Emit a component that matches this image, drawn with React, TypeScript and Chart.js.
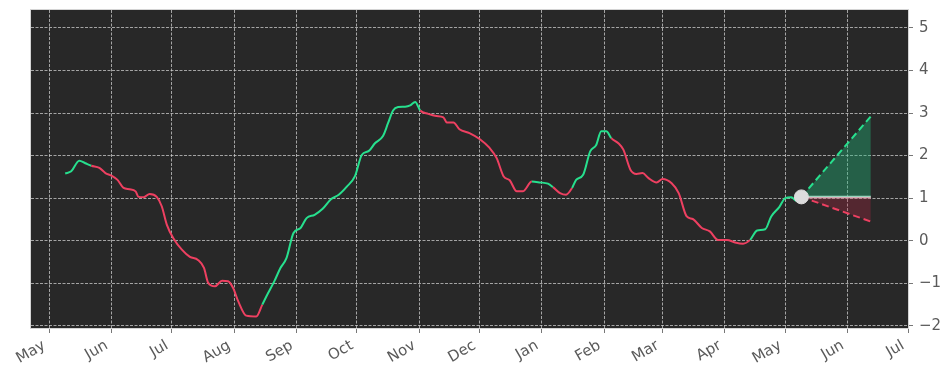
import React, { useEffect, useRef } from 'react';
import { Chart, registerables } from 'chart.js';
Chart.register(...registerables);

// x values are days since 1 May 2023
const monthTicks = [0, 31, 61, 92, 123, 153, 184, 214, 245, 276, 305, 336, 366, 397, 427];
const monthLabels = ['May', 'Jun', 'Jul', 'Aug', 'Sep', 'Oct', 'Nov', 'Dec', 'Jan', 'Feb', 'Mar', 'Apr', 'May', 'Jun', 'Jul'];
const yTicks = [-2, -1, 0, 1, 2, 3, 4, 5];

const days = [
  8, 11, 15, 18, 21, 25, 28, 31, 34, 37, 40, 43, 44.5, 47, 50, 53.5, 56, 58.5, 62, 66,
  70, 74, 77, 79, 82.5, 86, 89, 91.5, 94, 98, 103, 106, 108, 112, 115, 118, 121.5, 125, 128, 132,
  136, 140, 144, 148, 152, 155.5, 159, 162, 166, 168.5, 171, 173.5, 177, 179.5, 182, 184.5, 188.5, 192.5, 196, 197.7,
  201, 204, 209, 214, 219, 222.5, 226, 229, 232.5, 235.5, 240, 244, 248, 250.5, 254, 257, 260, 262, 265.5, 269,
  272, 274.5, 277, 279.5, 283, 285.5, 289, 292, 295, 298, 302, 305, 309.5, 313, 317, 320, 324.5, 328.5, 332.5, 337,
  341, 345, 348.5, 352, 356, 359, 363, 366, 369, 371.5, 374,
];
const values = [
  1.58, 1.63, 1.88, 1.82, 1.76, 1.71, 1.59, 1.53, 1.43, 1.24, 1.21, 1.16, 1.03, 1.02, 1.10, 1.03, 0.81, 0.38, 0.04, -0.21,
  -0.38, -0.45, -0.64, -0.98, -1.07, -0.94, -0.95, -1.11, -1.42, -1.76, -1.78, -1.50, -1.31, -0.95, -0.64, -0.41, 0.18, 0.30, 0.53, 0.61,
  0.75, 0.97, 1.08, 1.27, 1.51, 2.02, 2.11, 2.29, 2.46, 2.76, 3.06, 3.14, 3.15, 3.18, 3.26, 3.06, 2.98, 2.93, 2.90, 2.78,
  2.78, 2.62, 2.53, 2.39, 2.18, 1.94, 1.51, 1.42, 1.16, 1.16, 1.39, 1.37, 1.34, 1.26, 1.12, 1.08, 1.24, 1.43, 1.55, 2.10,
  2.25, 2.57, 2.57, 2.41, 2.29, 2.14, 1.67, 1.57, 1.59, 1.47, 1.37, 1.45, 1.35, 1.12, 0.57, 0.51, 0.30, 0.22, 0.02, 0.02,
  -0.04, -0.07, 0.02, 0.24, 0.27, 0.57, 0.79, 1.00, 1.02, 0.94, 1.03,
];
// day ranges [start, end) where the trend line is drawn green (rising)
const upRanges = [[8, 21], [106, 184.5], [240, 250.5], [260, 279.5], [348.5, 374.5]];

const forecastDays = [374, 408.5];
const forecastBase = [1.03, 1.03];
const forecastHigh = [1.03, 2.92];
const forecastLow = [1.03, 0.45];
const lastDay = 374;
const lastValue = 1.03;

const GREEN = '#27e08e';
const RED = '#ee4061';
const FONT = "'DejaVu Sans', sans-serif";
const LABEL_COLOR = '#5a5a5a';

export default function App() {
  const ref = useRef<HTMLCanvasElement>(null);
  useEffect(() => {
    const canvas = ref.current;
    if (!canvas) return;
    const pts = (xs: number[], ys: number[]) => xs.map((x, i) => ({ x, y: ys[i] }));
    const isUp = (d: number) => upRanges.some(([a, b]) => d >= a && d < b);

    const bgPlugin = {
      id: 'bg',
      beforeDraw(chart: any) {
        const { ctx, chartArea: a } = chart;
        ctx.save();
        ctx.fillStyle = '#282828';
        ctx.fillRect(a.left, a.top, a.right - a.left, a.bottom - a.top);
        ctx.restore();
      },
      afterDraw(chart: any) {
        const { ctx, chartArea: a } = chart;
        ctx.save();
        ctx.strokeStyle = '#d4d4d4';
        ctx.lineWidth = 1;
        ctx.strokeRect(a.left - 0.5, a.top - 0.5, a.right - a.left + 1, a.bottom - a.top + 1);
        // rotated month labels, anchored like matplotlib (ha=right, va=top)
        const xs = chart.scales.x;
        ctx.font = `15px ${FONT}`;
        ctx.fillStyle = LABEL_COLOR;
        ctx.textAlign = 'right';
        ctx.textBaseline = 'top';
        monthTicks.forEach((v, i) => {
          const px = xs.getPixelForValue(v);
          ctx.save();
          ctx.translate(px - 8.5, a.bottom + 10);
          ctx.rotate(-Math.PI / 6);
          ctx.fillText(monthLabels[i], 0, 0);
          ctx.restore();
        });
        ctx.restore();
      },
    };

    const gridCommon = {
      color: 'rgba(205,205,205,0.75)',
      lineWidth: 1,
      drawTicks: true,
      tickLength: 5,
      tickColor: '#777',
      tickBorderDash: [],
      tickWidth: 1,
    };
    const borderCommon = { display: false, dash: [3, 1.5] };

    const chart = new Chart(canvas, {
      type: 'line',
      data: {
        datasets: [
          {
            data: pts(days, values),
            borderWidth: 2,
            pointRadius: 0,
            cubicInterpolationMode: 'monotone',
            fill: false,
            borderColor: RED,
            segment: {
              borderColor: (c: any) => (isUp(c.p0.parsed.x) ? GREEN : RED),
            },
            order: 3,
          },
          {
            data: pts(forecastDays, forecastBase),
            borderColor: '#e4e4e4',
            borderWidth: 2.5,
            pointRadius: 0,
            fill: false,
            order: 2,
          },
          {
            data: pts(forecastDays, forecastHigh),
            borderColor: GREEN,
            borderWidth: 2,
            borderDash: [7, 4],
            pointRadius: 0,
            fill: { target: 1 },
            backgroundColor: 'rgba(35,190,125,0.38)',
            order: 1,
          },
          {
            data: pts(forecastDays, forecastLow),
            borderColor: RED,
            borderWidth: 2,
            borderDash: [7, 4],
            pointRadius: 0,
            fill: { target: 1 },
            backgroundColor: 'rgba(190,40,70,0.3)',
            order: 1,
          },
          {
            type: 'scatter',
            data: [{ x: lastDay, y: lastValue }],
            pointRadius: 7,
            pointBackgroundColor: '#dcdcdc',
            pointBorderColor: '#dcdcdc',
            order: 0,
          },
        ],
      } as any,
      options: {
        responsive: false,
        animation: false,
        layout: { padding: { left: 31, top: 10, right: 0, bottom: 0 } },
        plugins: { legend: { display: false }, tooltip: { enabled: false } },
        scales: {
          x: {
            type: 'linear',
            min: -9,
            max: 427,
            afterBuildTicks: (s: any) => {
              s.ticks = monthTicks.map((v) => ({ value: v }));
            },
            afterFit: (s: any) => {
              s.height = 53;
              s.paddingLeft = 0;
              s.paddingRight = 0;
            },
            ticks: { display: false, autoSkip: false },
            grid: gridCommon,
            border: borderCommon,
          },
          y: {
            type: 'linear',
            position: 'right',
            min: -2.05,
            max: 5.42,
            afterBuildTicks: (s: any) => {
              s.ticks = yTicks.map((v) => ({ value: v }));
            },
            afterFit: (s: any) => {
              s.width = 44;
              s.paddingTop = 0;
              s.paddingBottom = 0;
            },
            ticks: {
              padding: 6,
              color: LABEL_COLOR,
              font: { family: FONT, size: 15 },
              callback: (v: any) => (Number(v) < 0 ? '\u2212' + Math.abs(Number(v)) : String(v)),
            },
            grid: gridCommon,
            border: borderCommon,
          },
        },
      } as any,
      plugins: [bgPlugin],
    });
    return () => chart.destroy();
  }, []);

  return (
    <div style={{ position: 'absolute', left: 0, top: 0, width: 952, height: 381 }}>
      <canvas ref={ref} width={952} height={381} style={{ width: 952, height: 381 }} />
    </div>
  );
}
